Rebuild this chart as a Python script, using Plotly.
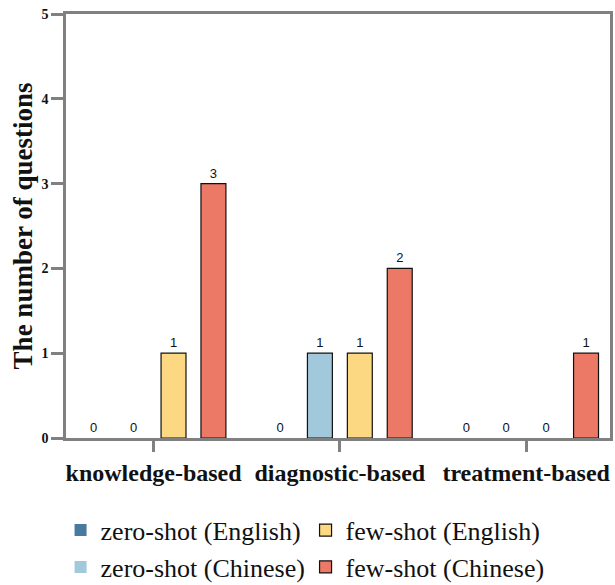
import plotly.graph_objects as go

categories = ["knowledge-based", "diagnostic-based", "treatment-based"]
zero_shot_en = [0, 0, 0]
zero_shot_zh = [0, 1, 0]
few_shot_en = [1, 1, 0]
few_shot_zh = [3, 2, 1]

series = [
    ("zero-shot (English)", zero_shot_en, "#48799f", 1),
    ("zero-shot (Chinese)", zero_shot_zh, "#a2c8dc", 3),
    ("few-shot (English)", few_shot_en, "#fdd882", 2),
    ("few-shot (Chinese)", few_shot_zh, "#ec7866", 4),
]

SERIF = "Liberation Serif"

fig = go.Figure()
for name, vals, color, rank in series:
    fig.add_trace(go.Bar(
        x=categories,
        y=vals,
        name=name,
        legendrank=rank,
        marker=dict(
            color=color,
            # zero-height bars should not leave an outline on the axis
            line=dict(color="#111111", width=[1.2 if v else 0 for v in vals]),
        ),
        text=[str(v) for v in vals],
        textposition="outside",
        textfont=dict(family="Liberation Sans", size=13, color="#111111"),
        cliponaxis=False,
    ))

fig.update_layout(
    width=615,
    height=585,
    barmode="group",
    bargap=0.143,
    bargroupgap=0.375,
    paper_bgcolor="white",
    plot_bgcolor="white",
    margin=dict(l=66, r=5, t=14, b=147, autoexpand=False),
    showlegend=True,
    legend=dict(
        orientation="h",
        x=-0.01,
        xanchor="left",
        y=-0.162,
        yanchor="top",
        entrywidth=200,
        entrywidthmode="pixels",
        font=dict(family=SERIF, size=26, color="#111111"),
    ),
    font=dict(family=SERIF, color="#111111"),
)

fig.update_xaxes(
    range=[-0.47, 2.45],
    showline=True,
    linecolor="#808080",
    linewidth=2.5,
    mirror=True,
    ticks="outside",
    ticklen=11,
    tickwidth=2.5,
    tickcolor="#808080",
    tickfont=dict(family=SERIF, size=24, color="#111111", weight="bold"),
    showgrid=False,
    zeroline=False,
)
fig.update_yaxes(
    range=[0, 5],
    dtick=1,
    showline=True,
    linecolor="#808080",
    linewidth=2.5,
    mirror=True,
    ticks="outside",
    ticklen=12,
    tickwidth=2.5,
    tickcolor="#808080",
    tickfont=dict(family=SERIF, size=14, color="#111111", weight="bold"),
    title=dict(
        text="The number of questions",
        font=dict(family=SERIF, size=27, color="#111111", weight="bold"),
        standoff=2,
    ),
    showgrid=False,
    zeroline=False,
)

# drop the default page margin so the figure sits at the window corner
fig.write_html(
    "out.html",
    config={"displayModeBar": False},
    post_script="document.body.style.margin='0';document.body.style.overflow='hidden';",
)
